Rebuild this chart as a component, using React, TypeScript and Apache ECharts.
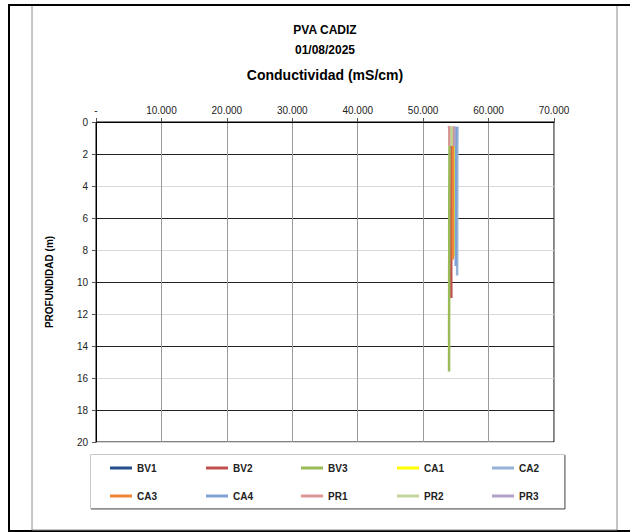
import React, { useEffect, useRef } from "react";
import * as echarts from "echarts";

// ---- data ----
const seriesNames = ["BV1", "BV2", "BV3", "CA1", "CA2", "CA3", "CA4", "PR1", "PR2", "PR3"];
const seriesColors = ["#254E8C", "#C0504D", "#9BBB59", "#FFFF00", "#95B3D7", "#EE8435", "#7EA1D6", "#D99694", "#C3D69B", "#B3A2C7"];

const depthBV1 = [0.3, 0.6, 1.0, 1.4];
const valBV1 = [54720, 54760, 54750, 54780];

const depthBV2 = [0.3, 1, 2, 3, 4, 5, 6, 7, 8, 9, 10, 11.0];
const valBV2 = [54350, 54330, 54320, 54330, 54310, 54320, 54300, 54310, 54300, 54290, 54300, 54310];

const depthBV3 = [0.3, 1, 2, 3, 4, 5, 6, 7, 8, 9, 10, 11, 12, 13, 14, 15, 15.6];
const valBV3 = [54080, 54050, 54020, 54010, 54000, 53990, 53990, 53980, 53990, 53980, 53970, 53980, 53970, 53960, 53970, 53960, 53960];

const depthCA1 = [1.5, 2, 3, 4, 5, 6, 7, 8, 8.4];
const valCA1 = [54720, 54700, 54690, 54700, 54690, 54680, 54690, 54680, 54680];

const depthCA2 = [0.3, 1, 2, 3, 4, 5, 6, 7, 8, 9, 9.6];
const valCA2 = [55250, 55230, 55220, 55210, 55220, 55210, 55200, 55210, 55200, 55200, 55190];

const depthCA3 = [0.3, 1, 2, 3, 4, 5, 6, 7, 8, 8.6];
const valCA3 = [54580, 54560, 54550, 54550, 54540, 54550, 54540, 54530, 54540, 54530];

const depthCA4 = [0.3, 1, 2, 3, 4, 5, 6, 7, 8, 9.0];
const valCA4 = [55030, 55010, 55000, 55000, 54990, 55000, 54990, 54980, 54990, 54980];

const depthPR1 = [0.25, 0.5, 1.0, 1.5];
const valPR1 = [53950, 53990, 54010, 54020];

const depthPR2 = [0.3, 0.6, 1.0, 1.5];
const valPR2 = [54360, 54350, 54340, 54340];

const depthPR3 = [0.3, 0.6, 1.0, 1.5];
const valPR3 = [54820, 54800, 54800, 54790];

const depths = [depthBV1, depthBV2, depthBV3, depthCA1, depthCA2, depthCA3, depthCA4, depthPR1, depthPR2, depthPR3];
const values = [valBV1, valBV2, valBV3, valCA1, valCA2, valCA3, valCA4, valPR1, valPR2, valPR3];

const titleLines = ["PVA CADIZ", "01/08/2025", "Conductividad (mS/cm)"];
const yAxisTitle = "PROFUNDIDAD (m)";

// ---- layout ----
const FONT = "Arial, 'Liberation Sans', sans-serif";
const legendCols = [110, 206, 301, 397, 492];
const legendRows = [468, 496];

function fmt(v: number): string {
  if (v === 0) return "-";
  return String(v).replace(/\B(?=(\d{3})+(?!\d))/g, ".");
}

export default function App() {
  const ref = useRef<HTMLDivElement>(null);
  useEffect(() => {
    if (!ref.current) return;
    const chart = echarts.init(ref.current, null, { renderer: "svg" });
    const series = seriesNames.map((name, i) => ({
      name,
      type: "line",
      data: depths[i].map((d, k) => [values[i][k], d]),
      showSymbol: false,
      symbol: "none",
      lineStyle: { color: seriesColors[i], width: 2.5 },
      itemStyle: { color: seriesColors[i] },
      z: 3 + i,
    }));
    const legends = seriesNames.map((name, i) => ({
      data: [name],
      left: legendCols[i % 5],
      top: legendRows[Math.floor(i / 5)] - 6,
      orient: "horizontal",
      padding: 0,
      icon: "rect",
      itemWidth: 22,
      itemHeight: 3,
      itemGap: 5,
      selectedMode: false,
      textStyle: { fontFamily: FONT, fontSize: 10, fontWeight: "bold", color: "#222", lineHeight: 12, padding: [0, 0, 0, 0] },
    }));
    chart.setOption({
      animation: false,
      backgroundColor: "#ffffff",
      textStyle: { fontFamily: FONT },
      graphic: [
        { type: "rect", shape: { x: 9, y: 5, width: 640, height: 526 }, style: { fill: "none", stroke: "#000", lineWidth: 2 }, z: 0 },
        { type: "line", shape: { x1: 32, y1: 6, x2: 32, y2: 530 }, style: { stroke: "#8c8c8c", lineWidth: 1 } },
        { type: "line", shape: { x1: 617, y1: 6, x2: 617, y2: 530 }, style: { stroke: "#8c8c8c", lineWidth: 1 } },
        { type: "line", shape: { x1: 32, y1: 530, x2: 617, y2: 530 }, style: { stroke: "#8c8c8c", lineWidth: 1 } },
        { type: "text", x: 325, y: 30, style: { text: titleLines[0], font: `bold 12px ${FONT}`, fill: "#000", align: "center", verticalAlign: "middle" } },
        { type: "text", x: 325, y: 50, style: { text: titleLines[1], font: `bold 12px ${FONT}`, fill: "#000", align: "center", verticalAlign: "middle" } },
        { type: "text", x: 325, y: 75, style: { text: titleLines[2], font: `bold 14px ${FONT}`, fill: "#000", align: "center", verticalAlign: "middle" } },
        { type: "text", x: 49, y: 282, rotation: Math.PI / 2, style: { text: yAxisTitle, font: `bold 10px ${FONT}`, fill: "#000", align: "center", verticalAlign: "middle" } },
        { type: "rect", shape: { x: 90.5, y: 454.5, width: 474, height: 54 }, style: { fill: "#fff", stroke: "#c8c8c8", lineWidth: 1 }, z: -1 },
        { type: "polyline", shape: { points: [[91, 509], [565, 509], [565, 455]] }, style: { fill: "none", stroke: "#5a5a5a", lineWidth: 1 }, z: -1 },
      ],
      grid: {
        left: 96,
        top: 122,
        width: 458,
        height: 320,
        show: true,
        borderColor: "#000",
        borderWidth: 1,
        backgroundColor: "transparent",
        containLabel: false,
      },
      xAxis: {
        type: "value",
        position: "top",
        min: 0,
        max: 70000,
        interval: 10000,
        axisLine: { show: true, lineStyle: { color: "#000", width: 1 } },
        axisTick: { show: true, inside: false, length: 4, lineStyle: { color: "#555" } },
        axisLabel: { formatter: fmt, fontSize: 10, color: "#222", fontFamily: FONT, margin: 7 },
        splitLine: { show: true, lineStyle: { color: "#9a9a9a", width: 1 } },
      },
      yAxis: {
        type: "value",
        inverse: true,
        min: 0,
        max: 20,
        interval: 2,
        axisLine: { show: true, lineStyle: { color: "#000", width: 1 } },
        axisTick: { show: true, inside: false, length: 4, lineStyle: { color: "#555" } },
        axisLabel: { fontSize: 10, color: "#222", fontFamily: FONT, margin: 8 },
        splitLine: { show: true, lineStyle: { color: ["#d9d9d9", "#222"], width: 1 } },
      },
      legend: legends,
      series,
    });
    return () => chart.dispose();
  }, []);
  return <div ref={ref} style={{ position: "fixed", left: 0, top: 0, width: 630, height: 532 }} />;
}
